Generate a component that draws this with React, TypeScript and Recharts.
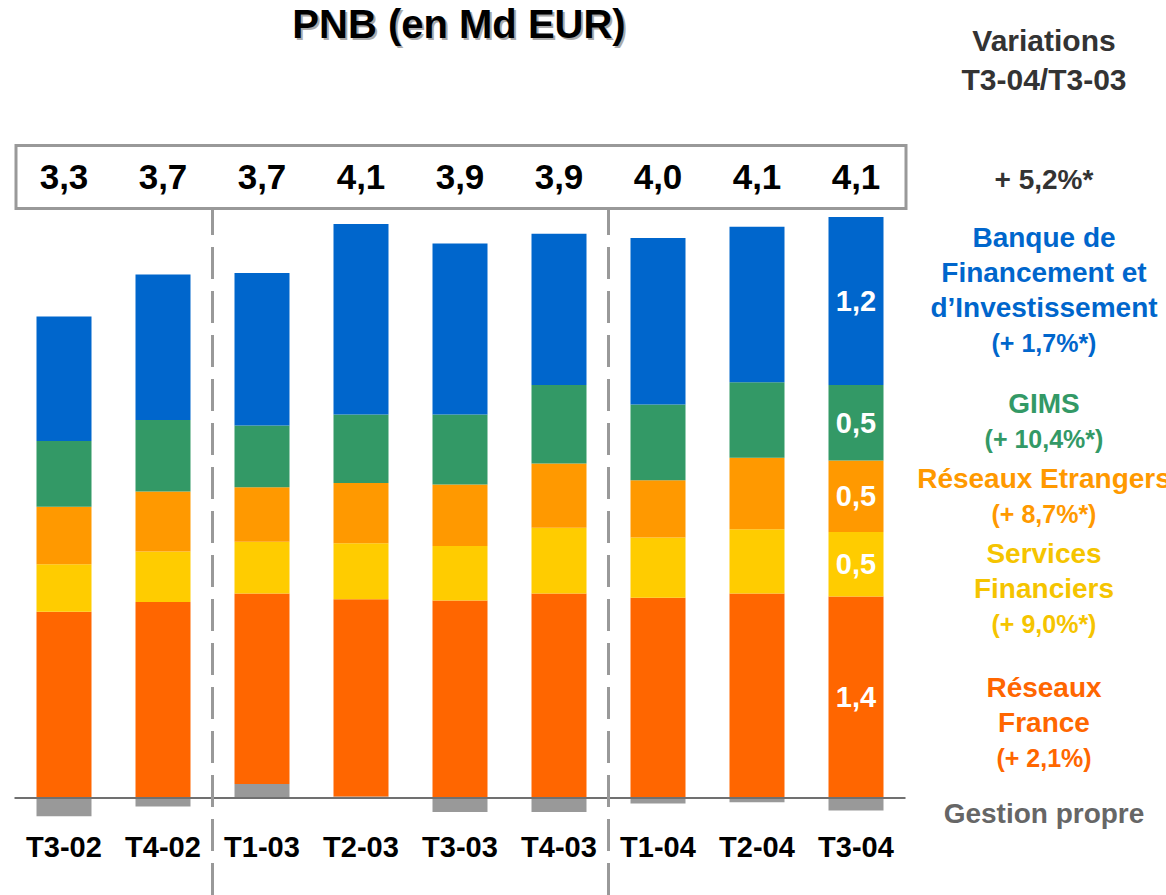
import React from "react";
import {
  BarChart,
  Bar,
  XAxis,
  YAxis,
  ReferenceLine,
  LabelList,
} from "recharts";

// quarters
const categories = ["T3-02", "T4-02", "T1-03", "T2-03", "T3-03", "T4-03", "T1-04", "T2-04", "T3-04"];

// PNB by business line, Md EUR
const gestionPropre = [-0.13, -0.06, 0.1, 0.01, -0.1, -0.1, -0.04, -0.03, -0.09];
const reseauxFrance = [1.33, 1.4, 1.36, 1.41, 1.41, 1.46, 1.43, 1.46, 1.44];
const servicesFinanciers = [0.34, 0.36, 0.37, 0.4, 0.39, 0.47, 0.43, 0.46, 0.46];
const reseauxEtrangers = [0.41, 0.43, 0.39, 0.43, 0.44, 0.46, 0.41, 0.51, 0.51];
const gims = [0.47, 0.51, 0.44, 0.49, 0.5, 0.56, 0.54, 0.54, 0.54];
const bfi = [0.89, 1.04, 1.09, 1.36, 1.22, 1.08, 1.19, 1.11, 1.2];
const totals = ["3,3", "3,7", "3,7", "4,1", "3,9", "3,9", "4,0", "4,1", "4,1"];

// variations T3-04/T3-03
const legendItems = [
  { lines: ["Banque de", "Financement et", "d’Investissement"], variation: "(+ 1,7%*)", color: "#0066CC", y: 247 },
  { lines: ["GIMS"], variation: "(+ 10,4%*)", color: "#339966", y: 413 },
  { lines: ["Réseaux Etrangers"], variation: "(+ 8,7%*)", color: "#FF9900", y: 488 },
  { lines: ["Services", "Financiers"], variation: "(+ 9,0%*)", color: "#F5C400", y: 563 },
  { lines: ["Réseaux", "France"], variation: "(+ 2,1%)", color: "#FF6600", y: 697 },
];

const data = categories.map((name, i) => ({
  name,
  gestion: gestionPropre[i],
  france: reseauxFrance[i],
  services: servicesFinanciers[i],
  etrangers: reseauxEtrangers[i],
  gims: gims[i],
  bfi: bfi[i],
  total: totals[i],
}));

const FONT = "'Liberation Sans', Arial, sans-serif";
const LAST = categories.length - 1;

const fmt = (v: number) => v.toFixed(1).replace(".", ",");

// quarter names under the zero line
const CategoryLabel = (props: any) => {
  const { x, width, value } = props;
  return (
    <text x={x + width / 2} y={857} textAnchor="middle" fontFamily={FONT} fontWeight="bold" fontSize={29} fill="#000">
      {value}
    </text>
  );
};

const TotalLabel = (props: any) => {
  const { x, width, value } = props;
  return (
    <text x={x + width / 2} y={189} textAnchor="middle" fontFamily={FONT} fontWeight="bold" fontSize={35} fill="#000">
      {value}
    </text>
  );
};

const SegmentLabel = (props: any) => {
  const { x, y, width, height, value, index } = props;
  if (index !== LAST) return null;
  return (
    <text
      x={x + width / 2}
      y={y + height / 2 + 10}
      textAnchor="middle"
      fontFamily={FONT}
      fontWeight="bold"
      fontSize={29}
      fill="#fff"
    >
      {fmt(value)}
    </text>
  );
};

const Overlay = () => (
  <svg width={1166} height={895} style={{ position: "absolute", left: 0, top: 0, pointerEvents: "none" }}>
    <text x={461} y={40} textAnchor="middle" fontFamily={FONT} fontWeight="bold" fontSize={40} fill="#aaa">
      PNB (en Md EUR)
    </text>
    <text x={459} y={38} textAnchor="middle" fontFamily={FONT} fontWeight="bold" fontSize={40} fill="#000">
      PNB (en Md EUR)
    </text>
    <text x={1044} y={51} textAnchor="middle" fontFamily={FONT} fontWeight="bold" fontSize={30} fill="#333">
      Variations
    </text>
    <text x={1044} y={90} textAnchor="middle" fontFamily={FONT} fontWeight="bold" fontSize={30} fill="#333">
      T3-04/T3-03
    </text>
    <text x={1044} y={189} textAnchor="middle" fontFamily={FONT} fontWeight="bold" fontSize={28} fill="#333">
      + 5,2%*
    </text>
    <rect x={16} y={145.5} width={890} height={63} fill="none" stroke="#999" strokeWidth={3} />
    {legendItems.map((item) => (
      <g key={item.variation} fontFamily={FONT} fontWeight="bold" fill={item.color} textAnchor="middle">
        {item.lines.map((l, j) => (
          <text key={l} x={1044} y={item.y + j * 35} fontSize={28}>
            {l}
          </text>
        ))}
        <text x={1044} y={item.y + item.lines.length * 35} fontSize={25}>
          {item.variation}
        </text>
      </g>
    ))}
    <text x={1044} y={823} textAnchor="middle" fontFamily={FONT} fontWeight="bold" fontSize={28} fill="#666">
      Gestion propre
    </text>
  </svg>
);

export default function App() {
  return (
    <div style={{ position: "absolute", left: 0, top: 0, width: 1166, height: 895, background: "#fff" }}>
      <BarChart
        width={1166}
        height={895}
        data={data}
        stackOffset="sign"
        barSize={55}
        margin={{ top: 209, right: 260.5, bottom: 0, left: 14.5 }}
      >
        <XAxis dataKey="name" hide />
        <YAxis hide domain={[-0.693, 4.207]} allowDataOverflow />
        <Bar dataKey="gestion" stackId="pnb" fill="#999999" isAnimationActive={false}>
          <LabelList dataKey="name" content={<CategoryLabel />} />
        </Bar>
        <Bar dataKey="france" stackId="pnb" fill="#FF6600" isAnimationActive={false}>
          <LabelList dataKey="france" content={<SegmentLabel />} />
        </Bar>
        <Bar dataKey="services" stackId="pnb" fill="#FFCC00" isAnimationActive={false}>
          <LabelList dataKey="services" content={<SegmentLabel />} />
        </Bar>
        <Bar dataKey="etrangers" stackId="pnb" fill="#FF9900" isAnimationActive={false}>
          <LabelList dataKey="etrangers" content={<SegmentLabel />} />
        </Bar>
        <Bar dataKey="gims" stackId="pnb" fill="#339966" isAnimationActive={false}>
          <LabelList dataKey="gims" content={<SegmentLabel />} />
        </Bar>
        <Bar dataKey="bfi" stackId="pnb" fill="#0066CC" isAnimationActive={false}>
          <LabelList dataKey="bfi" content={<SegmentLabel />} />
          <LabelList dataKey="total" content={<TotalLabel />} />
        </Bar>
        <ReferenceLine y={0} stroke="#707070" strokeWidth={2} />
        <ReferenceLine x="T1-03" position="start" stroke="#999" strokeWidth={3} strokeDasharray="32 12" />
        <ReferenceLine x="T1-04" position="start" stroke="#999" strokeWidth={3} strokeDasharray="32 12" />
      </BarChart>
      <Overlay />
    </div>
  );
}
